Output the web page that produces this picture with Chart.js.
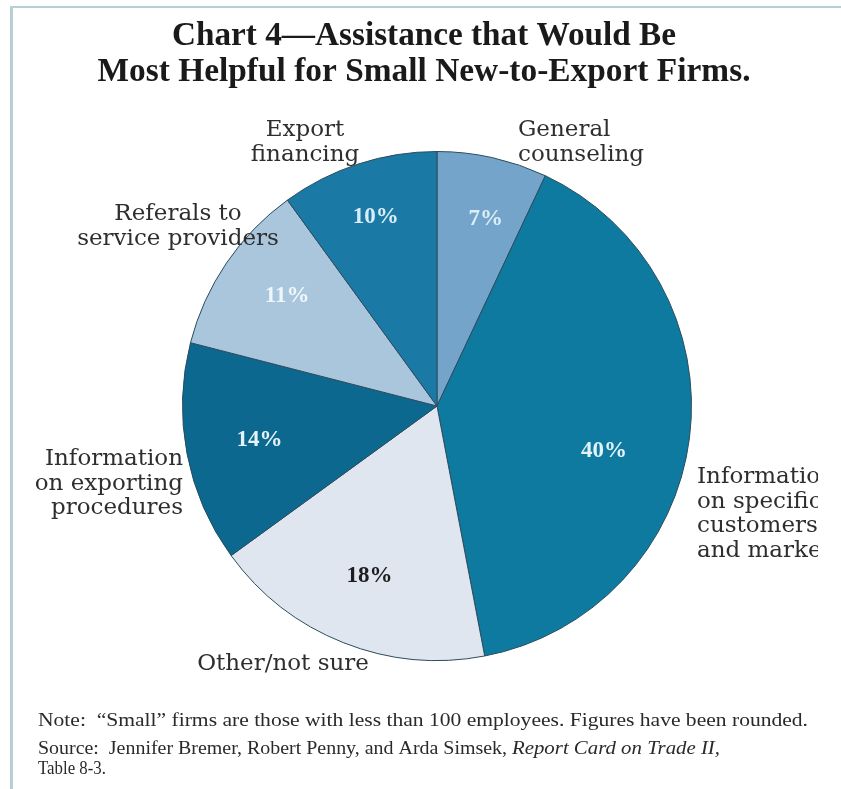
<!DOCTYPE html>
<html>
<head>
<meta charset="utf-8">
<script src="https://cdn.jsdelivr.net/npm/chart.js@4.4.0/dist/chart.umd.min.js"></script>
<style>
  html, body { margin: 0; padding: 0; background: #fff; }
  #wrap { position: relative; width: 841px; height: 789px; }
  #frame { position: absolute; left: 10px; top: 6px; right: 0; bottom: 0;
           border-left: 3px solid #b6d0d5; border-top: 2px solid #b6d0d5; }
  canvas { position: absolute; left: 0; top: 0; }
</style>
</head>
<body>
<div id="wrap">
  <div id="frame"></div>
  <canvas id="chartAssist" width="841" height="789"></canvas>
</div>
<script>
const categories = [
  ['General', 'counseling'],
  ['Information', 'on specific', 'customers', 'and markets'],
  ['Other/not sure'],
  ['Information', 'on exporting', 'procedures'],
  ['Referals to', 'service providers'],
  ['Export', 'financing']
];
const percents = [7, 40, 18, 14, 11, 10];
const sliceColors = ['#74a4c9', '#0e7a9f', '#dfe6ef', '#0d6890', '#a9c6dd', '#1b79a5'];
const pctColors = ['#d9eef8', '#e4f3fa', '#1e1e1e', '#e4f3fa', '#eef6fb', '#d9eef8'];

const titleLines = ['Chart 4\u2014Assistance that Would Be', 'Most Helpful for Small New-to-Export Firms.'];
const noteLine = 'Note:  \u201cSmall\u201d firms are those with less than 100 employees. Figures have been rounded.';
const sourceLine = 'Source:  Jennifer Bremer, Robert Penny, and Arda Simsek, ';
const sourceItalic = 'Report Card on Trade II,';
const tableLine = 'Table 8-3.';

// where each outside label sits, relative to the pie centre
const outerLabelPos = [
  { dx: 81, dy: -270, align: 'left' },
  { dx: 260, dy: 77, align: 'left' },
  { dx: -154, dy: 264, align: 'center' },
  { dx: -254, dy: 59, align: 'right' },
  { dx: -259, dy: -186, align: 'center' },
  { dx: -132, dy: -270, align: 'center' }
];
// how far out each percent label sits (fraction of radius) and angle nudge in degrees
const pctLabelPos = [[0.76, 2], [0.68, 8], [0.72, 0], [0.71, 0], [0.73, 2], [0.78, 0]];

const serif = '"Liberation Serif", "Times New Roman", serif';
const labelSerif = '"DejaVu Serif", serif';

function fitText(ctx, text, x, y, width, align) {
  // scale text horizontally so it takes the given width
  const w = ctx.measureText(text).width;
  const s = width / w;
  ctx.save();
  ctx.translate(x, y);
  ctx.scale(s, 1);
  ctx.textAlign = align;
  ctx.fillText(text, 0, 0);
  ctx.restore();
  return w * s;
}

const textPlugin = {
  id: 'textPlugin',
  afterDraw(chart) {
    const ctx = chart.ctx;
    const arcs = chart.getDatasetMeta(0).data;
    ctx.save();
    ctx.textBaseline = 'alphabetic';

    // title
    ctx.fillStyle = '#1a1a1a';
    ctx.font = 'bold 33px ' + serif;
    fitText(ctx, titleLines[0], 424, 45, 504, 'center');
    fitText(ctx, titleLines[1], 424, 81, 653, 'center');

    // percent labels inside slices
    arcs.forEach((arc, i) => {
      const p = arc.getProps(['x', 'y', 'startAngle', 'endAngle', 'outerRadius'], true);
      const mid = (p.startAngle + p.endAngle) / 2 + pctLabelPos[i][1] * Math.PI / 180;
      const r = p.outerRadius * pctLabelPos[i][0];
      ctx.fillStyle = pctColors[i];
      ctx.font = 'bold 23px ' + serif;
      ctx.textAlign = 'center';
      ctx.textBaseline = 'middle';
      ctx.fillText(percents[i] + '%', p.x + Math.cos(mid) * r, p.y + Math.sin(mid) * r);
    });

    // category labels around the pie (the page is cut off on the right)
    ctx.save();
    ctx.beginPath();
    ctx.rect(0, 0, 818, chart.height);
    ctx.clip();
    ctx.textBaseline = 'alphabetic';
    ctx.fillStyle = '#2e2e2e';
    ctx.font = '23px ' + labelSerif;
    arcs.forEach((arc, i) => {
      const pos = outerLabelPos[i];
      ctx.textAlign = pos.align;
      categories[i].forEach((line, j) => {
        ctx.fillText(line, arc.x + pos.dx, arc.y + pos.dy + j * 24.5);
      });
    });
    ctx.restore();

    // notes
    ctx.fillStyle = '#2a2a2a';
    ctx.font = '18px ' + serif;
    fitText(ctx, noteLine, 38, 721, 770, 'left');
    const w1 = fitText(ctx, sourceLine, 38, 749, 474, 'left');
    ctx.font = 'italic 18px ' + serif;
    fitText(ctx, sourceItalic, 38 + w1, 749, 208, 'left');
    ctx.font = '18px ' + serif;
    fitText(ctx, tableLine, 38, 769, 68, 'left');
    ctx.restore();
  }
};

const ctx = document.getElementById('chartAssist').getContext('2d');

const myChart = new Chart(ctx, {
  type: 'pie',
  data: {
    labels: categories.map(c => c.join(' ')),
    datasets: [{
      data: percents,
      backgroundColor: sliceColors,
      borderColor: '#2b4c5e',
      borderWidth: 1
    }]
  },
  options: {
    responsive: false,
    animation: false,
    layout: {
      padding: { left: 182, right: 149, top: 151, bottom: 128 }
    },
    plugins: {
      legend: { display: false },
      tooltip: { enabled: false },
      title: { display: false }
    }
  },
  plugins: [textPlugin]
});
</script>
</body>
</html>
